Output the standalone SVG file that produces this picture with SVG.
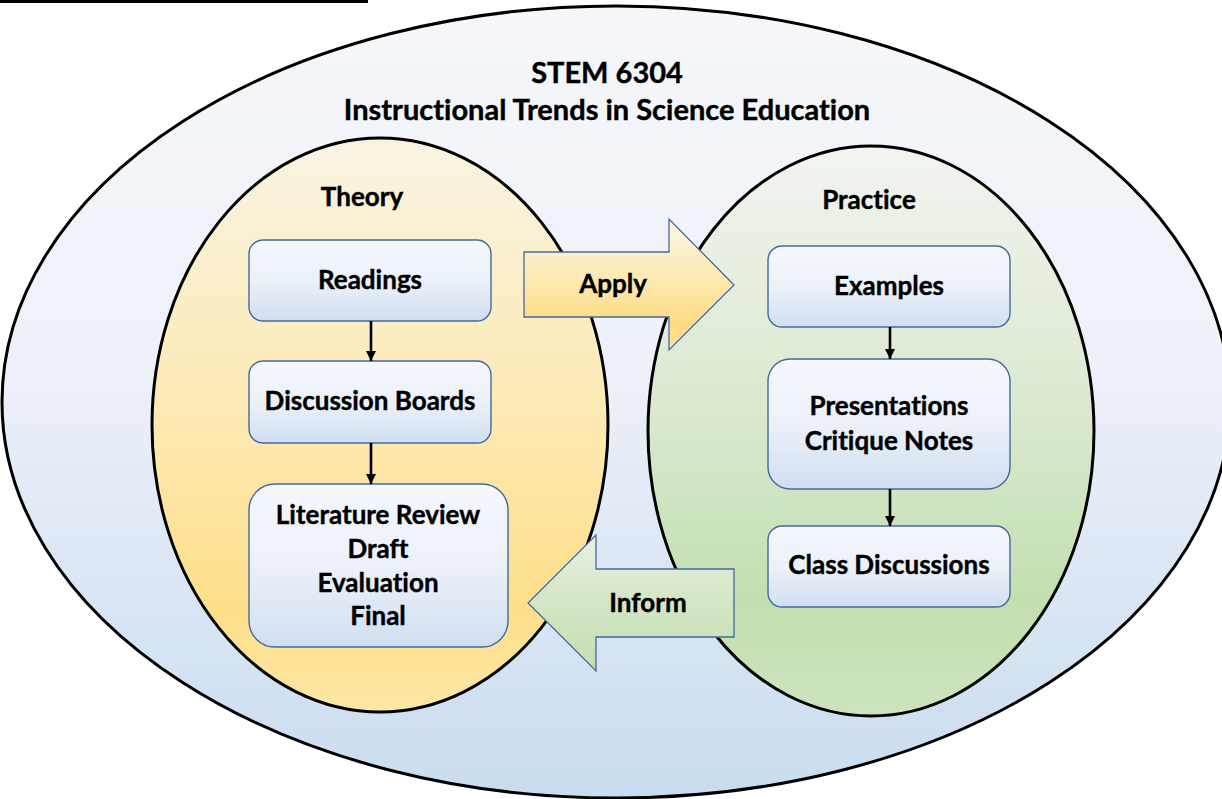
<svg xmlns="http://www.w3.org/2000/svg" width="1222" height="799" viewBox="0 0 1222 799">
  <defs>
    <linearGradient id="gOuter" x1="0" y1="0" x2="0" y2="1">
      <stop offset="0" stop-color="#f5f7f9"/>
      <stop offset="0.45" stop-color="#eef1f9"/>
      <stop offset="1" stop-color="#c9dcef"/>
    </linearGradient>
    <linearGradient id="gTheory" x1="0" y1="0" x2="0" y2="1">
      <stop offset="0" stop-color="#f8f4e3"/>
      <stop offset="0.5" stop-color="#fde9b1"/>
      <stop offset="0.82" stop-color="#fddf8a"/>
      <stop offset="1" stop-color="#fde7a6"/>
    </linearGradient>
    <linearGradient id="gPractice" x1="0" y1="0" x2="0" y2="1">
      <stop offset="0" stop-color="#f2f4f0"/>
      <stop offset="0.45" stop-color="#dbe9d0"/>
      <stop offset="0.8" stop-color="#c3dfb0"/>
      <stop offset="1" stop-color="#cde4bf"/>
    </linearGradient>
    <linearGradient id="gBox" x1="0" y1="0" x2="0" y2="1">
      <stop offset="0" stop-color="#f5f7fc"/>
      <stop offset="0.5" stop-color="#ecf1f9"/>
      <stop offset="1" stop-color="#d0dff1"/>
    </linearGradient>
    <linearGradient id="gApply" x1="0" y1="0" x2="0" y2="1">
      <stop offset="0" stop-color="#fcf7e4"/>
      <stop offset="0.45" stop-color="#fdeab3"/>
      <stop offset="0.8" stop-color="#fddb83"/>
      <stop offset="1" stop-color="#fde3a2"/>
    </linearGradient>
    <linearGradient id="gInform" x1="0" y1="0" x2="0" y2="1">
      <stop offset="0" stop-color="#eaf1e2"/>
      <stop offset="0.5" stop-color="#d3e6c5"/>
      <stop offset="1" stop-color="#c4deb0"/>
    </linearGradient>
    <marker id="arrowHead" viewBox="0 0 10 10" refX="10" refY="5" markerWidth="10" markerHeight="10" markerUnits="userSpaceOnUse" orient="auto">
      <path d="M0,0 L10,5 L0,10 Z" fill="#000"/>
    </marker>
    <style>
      text { font-family: Lato, "Open Sans", "Liberation Sans", sans-serif; font-weight: bold; fill: #000; stroke: #000; stroke-width: 0.4; text-anchor: middle; font-variant-ligatures: none; font-feature-settings: "liga" 0, "clig" 0; }
      .title { font-size: 29px; }
      .label { font-size: 26px; }
      .ring { stroke: #000; stroke-width: 3; }
      .box { fill: url(#gBox); stroke: #44699f; stroke-width: 1.4; }
      .block { stroke: #44699f; stroke-width: 1.3; }
      .flow { stroke: #000; stroke-width: 2.6; fill: none; marker-end: url(#arrowHead); }
    </style>
  </defs>

  <!-- rule along the top edge -->
  <rect x="0" y="0" width="368" height="3" fill="#000"/>

  <!-- course ellipse with title -->
  <g id="course">
    <ellipse class="ring" cx="616" cy="402" rx="614" ry="396" fill="url(#gOuter)"/>
    <text class="title" x="607" y="83">STEM 6304</text>
    <text class="title" x="607" y="120">Instructional Trends in Science Education</text>
  </g>

  <!-- Theory side -->
  <g id="theory">
    <ellipse class="ring" cx="380" cy="425" rx="228" ry="287" fill="url(#gTheory)"/>
    <text class="label" x="362" y="206">Theory</text>
  </g>

  <!-- Practice side -->
  <g id="practice">
    <ellipse class="ring" cx="871" cy="431" rx="223" ry="285" fill="url(#gPractice)"/>
    <text class="label" x="869" y="209">Practice</text>
  </g>

  <g id="readings">
    <rect class="box" x="249" y="240" width="242" height="81" rx="14"/>
    <text class="label" x="370" y="289">Readings</text>
  </g>
  <g id="discussion-boards">
    <rect class="box" x="249" y="361" width="242" height="82" rx="14"/>
    <text class="label" x="370" y="410">Discussion Boards</text>
  </g>
  <g id="literature-review">
    <rect class="box" x="249" y="484" width="259" height="163" rx="26"/>
    <text class="label" x="378" y="524">Literature Review</text>
    <text class="label" x="378" y="558">Draft</text>
    <text class="label" x="378" y="592">Evaluation</text>
    <text class="label" x="378" y="625">Final</text>
  </g>

  <g id="examples">
    <rect class="box" x="768" y="246" width="242" height="81" rx="14"/>
    <text class="label" x="889" y="295">Examples</text>
  </g>
  <g id="presentations">
    <rect class="box" x="768" y="359" width="242" height="130" rx="22"/>
    <text class="label" x="889" y="415">Presentations</text>
    <text class="label" x="889" y="450">Critique Notes</text>
  </g>
  <g id="class-discussions">
    <rect class="box" x="768" y="526" width="242" height="81" rx="14"/>
    <text class="label" x="889" y="574">Class Discussions</text>
  </g>

  <g id="connectors">
    <line class="flow" x1="371" y1="321" x2="371" y2="361"/>
    <line class="flow" x1="371" y1="443" x2="371" y2="484"/>
    <line class="flow" x1="890" y1="327" x2="890" y2="359"/>
    <line class="flow" x1="890" y1="489" x2="890" y2="526"/>

    <g id="apply">
      <path class="block" d="M524,252 H669 V219 L734,285 L669,350 V317 H524 Z" fill="url(#gApply)"/>
      <text class="label" x="613" y="293">Apply</text>
    </g>
    <g id="inform">
      <path class="block" d="M734,569 H596 V535 L528,603 L596,671 V637 H734 Z" fill="url(#gInform)"/>
      <text class="label" x="648" y="612">Inform</text>
    </g>
  </g>
</svg>
